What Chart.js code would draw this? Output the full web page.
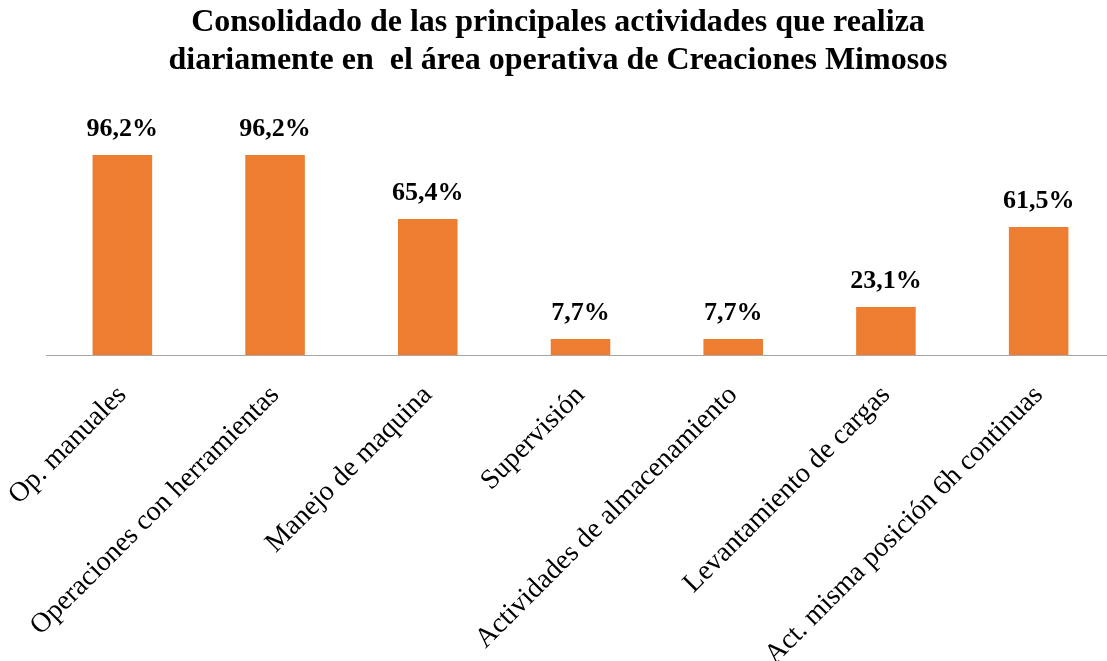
<!DOCTYPE html>
<html>
<head>
<meta charset="utf-8">
<script src="https://cdn.jsdelivr.net/npm/chart.js@4.4.0/dist/chart.umd.min.js"></script>
<style>
  body { margin: 0; overflow: hidden; background: #fff; }
</style>
</head>
<body>
<canvas id="actChart" width="1115" height="661"></canvas>
<script>
// categories and percentages
const categories = [
  'Op. manuales',
  'Operaciones con herramientas',
  'Manejo de maquina',
  'Supervisión',
  'Actividades de almacenamiento',
  'Levantamiento de cargas',
  'Act. misma posición 6h continuas'
];
const percentValues = [96.2, 96.2, 65.4, 7.7, 7.7, 23.1, 61.5];
const titleLines = [
  'Consolidado de las principales actividades que realiza',
  'diariamente en  el área operativa de Creaciones Mimosos'
];

const serif = '"Liberation Serif", "Times New Roman", serif';

// title drawn centred on the whole canvas (the built-in one centres on the padded box)
const pageTitle = {
  id: 'pageTitle',
  afterDraw(chart) {
    const ctx = chart.ctx;
    ctx.save();
    ctx.font = 'bold 32px ' + serif;
    ctx.fillStyle = '#000';
    ctx.textAlign = 'center';
    ctx.textBaseline = 'middle';
    titleLines.forEach((line, i) => {
      ctx.fillText(line, 558, 23 + i * 38);
    });
    ctx.restore();
  }
};

// draws the value above each bar
const barLabels = {
  id: 'barLabels',
  afterDatasetsDraw(chart) {
    const ctx = chart.ctx;
    const meta = chart.getDatasetMeta(0);
    ctx.save();
    ctx.font = 'bold 26px ' + serif;
    ctx.fillStyle = '#000';
    ctx.textAlign = 'center';
    ctx.textBaseline = 'middle';
    meta.data.forEach((bar, i) => {
      const txt = percentValues[i].toFixed(1).replace('.', ',') + '%';
      ctx.fillText(txt, bar.x, bar.y - 26);
    });
    ctx.restore();
  }
};

const data = {
  labels: categories,
  datasets: [
    {
      data: percentValues,
      backgroundColor: '#ED7D31',
      borderWidth: 0,
      categoryPercentage: 1,
      barPercentage: 0.39
    }
  ]
};

const options = {
  responsive: false,
  animation: false,
  layout: {
    padding: { left: 46, right: 0, top: 147, bottom: 0 }
  },
  scales: {
    x: {
      grid: { display: false },
      border: { display: true, color: '#A6A6A6', width: 1 },
      ticks: {
        color: '#000',
        font: { family: serif, size: 28 },
        maxRotation: 45,
        minRotation: 45,
        autoSkip: false,
        padding: 16
      },
      // the long rotated labels need more room than chart.js gives by default
      afterFit(scale) {
        scale.height = 306;
        scale.paddingLeft = 0;
        scale.paddingRight = 0;
      }
    },
    y: {
      display: false,
      min: 0,
      max: 100
    }
  },
  plugins: {
    legend: { display: false },
    tooltip: { enabled: false },
    title: { display: false }
  }
};

new Chart(document.getElementById('actChart'), {
  type: 'bar',
  data,
  options,
  plugins: [barLabels, pageTitle]
});
</script>
</body>
</html>
